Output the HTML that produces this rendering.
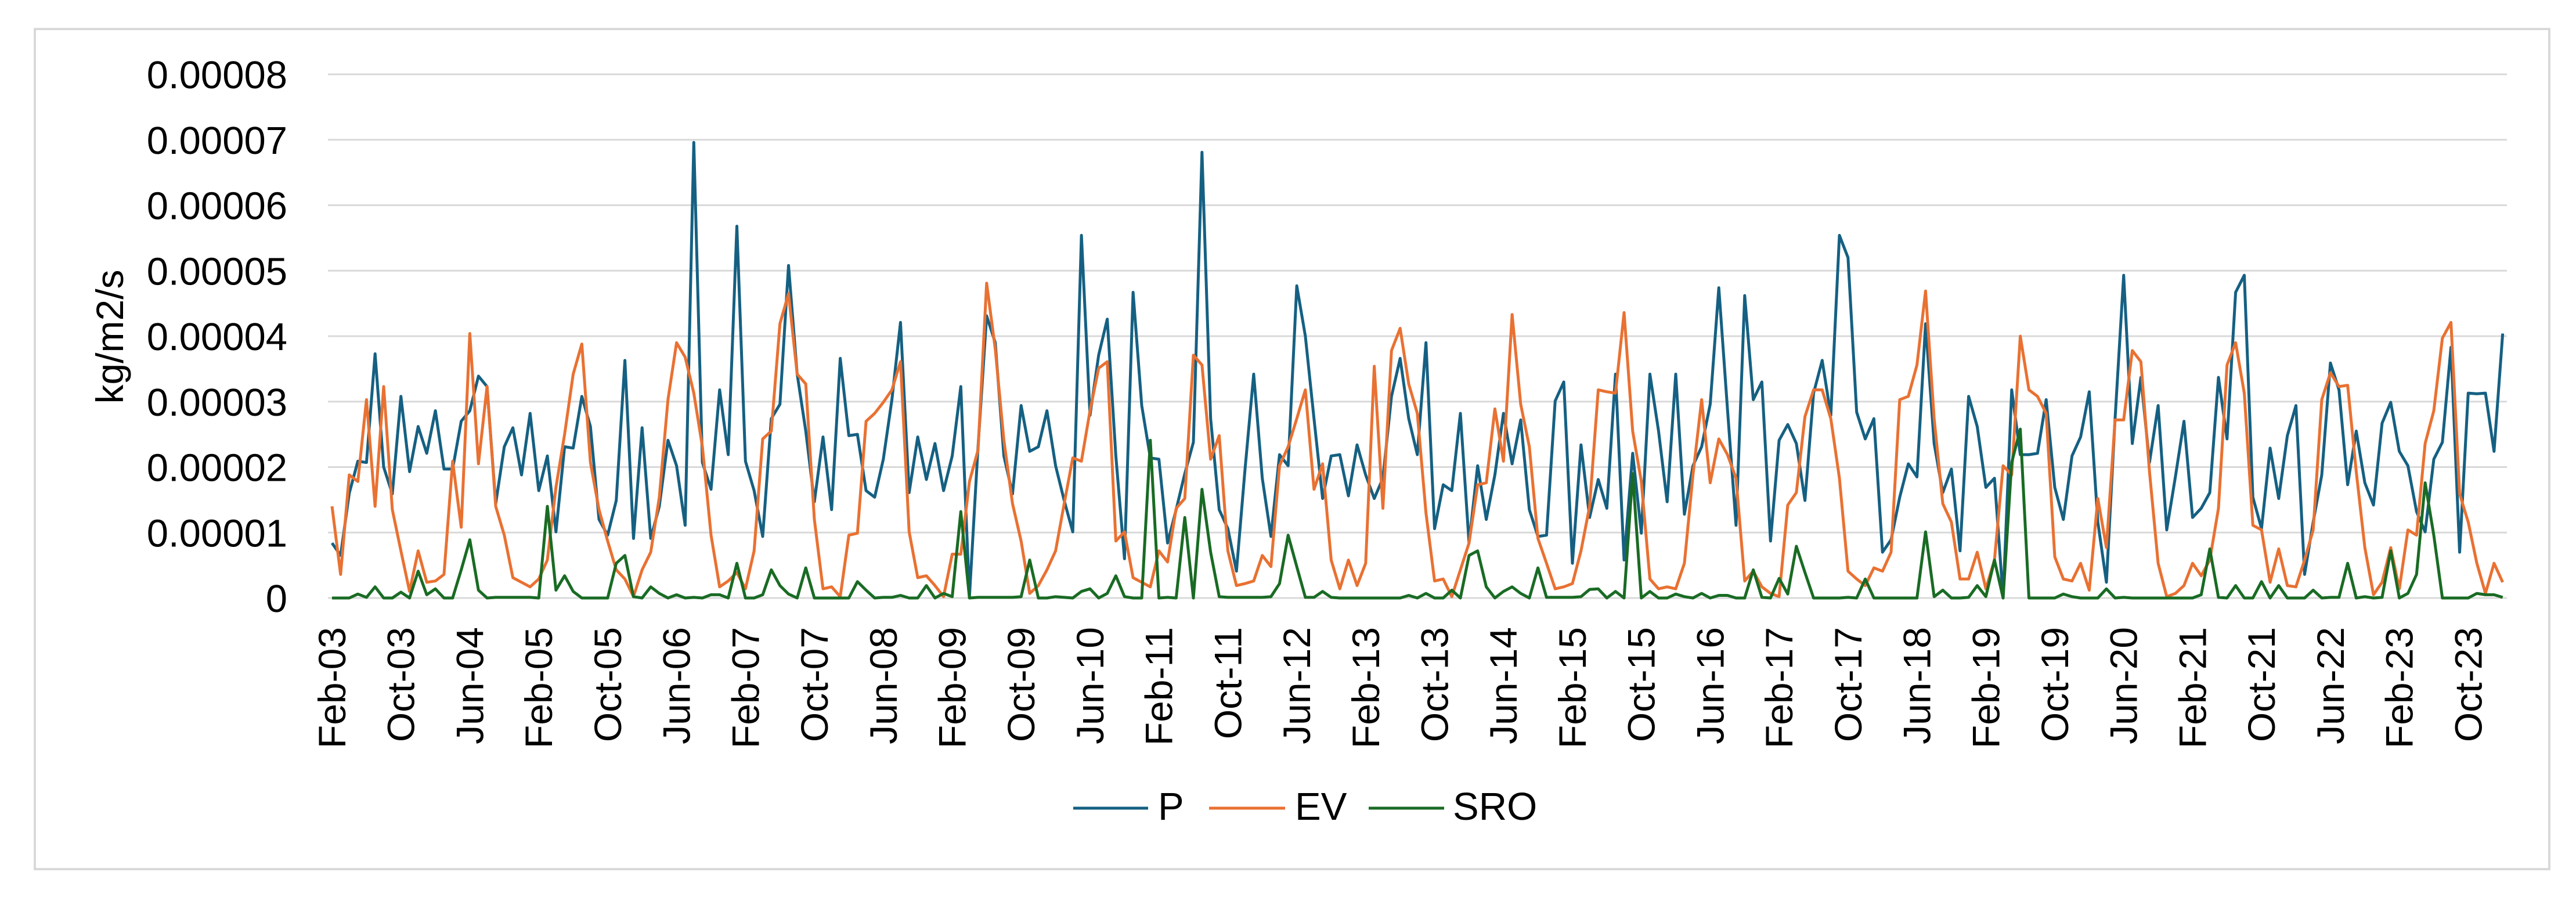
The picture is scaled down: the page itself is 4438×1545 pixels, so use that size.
<!DOCTYPE html>
<html><head><meta charset="utf-8"><style>
html,body{margin:0;padding:0;background:#fff;width:4438px;height:1545px;overflow:hidden}
svg{display:block;font-family:"Liberation Sans",sans-serif}
</style></head><body>
<svg id="chart" width="4438" height="1545" viewBox="0 0 4438 1545" xmlns="http://www.w3.org/2000/svg">
<rect x="60" y="50" width="4332" height="1447" fill="#fff" stroke="#d9d9d9" stroke-width="4"/>
<g id="grid"></g>
<g id="yticks"></g>
<text transform="translate(212,580) rotate(-90)" text-anchor="middle" font-size="66" fill="#000">kg/m2/s</text>
<g id="xticks"></g>
<g id="series"></g>
<g>
<line x1="1849" y1="1392" x2="1978" y2="1392" stroke="#156082" stroke-width="5"/>
<text x="1995" y="1412" font-size="67" fill="#000">P</text>
<line x1="2083" y1="1392" x2="2214" y2="1392" stroke="#E97132" stroke-width="5"/>
<text x="2231" y="1412" font-size="67" fill="#000">EV</text>
<line x1="2358" y1="1392" x2="2488" y2="1392" stroke="#196B24" stroke-width="5"/>
<text x="2503" y="1412" font-size="67" fill="#000">SRO</text>
</g>
</svg>
<script>
// values in units of 1e-5 kg/m2/s, monthly Feb-03 .. Feb-24
const startYear = 2003, startMonth = 1;
const monthNames = ["Jan","Feb","Mar","Apr","May","Jun","Jul","Aug","Sep","Oct","Nov","Dec"];
const yTicks = [0,1,2,3,4,5,6,7,8];
const yTickLabels = ["0","0.00001","0.00002","0.00003","0.00004","0.00005","0.00006","0.00007","0.00008"];
const seriesP = [0.84,0.65,1.6,2.09,2.07,3.73,2.0,1.59,3.08,1.93,
2.62,2.21,2.86,1.97,1.97,2.70,2.86,3.39,3.23,1.44,
2.31,2.60,1.88,2.82,1.64,2.17,1.01,2.31,2.29,3.08,
2.62,1.20,0.96,1.49,3.63,0.91,2.60,0.91,1.40,2.41,
2.02,1.11,6.96,2.07,1.66,3.18,2.19,5.68,2.09,1.64,
0.94,2.74,2.96,5.08,3.42,2.55,1.47,2.46,1.35,3.66,
2.48,2.50,1.64,1.54,2.12,3.03,4.21,1.61,2.46,1.81,
2.36,1.64,2.17,3.23,0.02,2.31,4.31,3.90,2.17,1.59,
2.94,2.24,2.31,2.86,2.02,1.49,1.01,5.54,2.79,3.71,
4.26,2.17,0.60,4.67,2.94,2.14,2.12,0.84,1.35,1.90,
2.38,6.81,2.74,1.35,1.06,0.41,1.97,3.42,1.83,0.94,
2.19,2.02,4.77,4.0,2.74,1.52,2.17,2.19,1.56,2.34,
1.88,1.52,1.83,3.08,3.66,2.74,2.19,3.90,1.06,1.73,
1.64,2.82,0.84,2.02,1.20,1.88,2.82,2.05,2.72,1.35,
0.94,0.96,3.01,3.30,0.53,2.34,1.23,1.81,1.37,3.42,
0.58,2.21,0.99,3.42,2.55,1.47,3.42,1.28,2.02,2.31,
2.96,4.74,2.89,1.11,4.62,3.03,3.30,0.87,2.41,2.65,
2.36,1.49,3.13,3.63,2.79,5.54,5.20,2.84,2.43,2.74,
0.70,0.89,1.54,2.05,1.85,4.19,2.36,1.61,1.97,0.72,
3.08,2.62,1.69,1.83,0.0,3.18,2.19,2.19,2.21,3.03,
1.69,1.20,2.17,2.46,3.15,1.16,0.24,2.74,4.93,2.36,
3.37,2.07,2.94,1.04,1.85,2.70,1.23,1.37,1.61,3.37,
2.43,4.67,4.93,1.54,1.06,2.29,1.52,2.48,2.94,0.36,
1.16,1.88,3.59,3.18,1.73,2.55,1.76,1.42,2.67,2.99,
2.24,2.02,1.32,1.01,2.12,2.38,3.83,0.70,3.13,3.12,
3.13,2.24,4.04];
const seriesEV = [1.40,0.36,1.88,1.78,3.03,1.40,3.23,1.35,0.72,0.10,
0.72,0.24,0.26,0.36,2.09,1.08,4.04,2.05,3.23,1.40,
0.96,0.31,0.24,0.17,0.29,0.58,1.69,2.50,3.42,3.88,
2.07,1.35,0.87,0.43,0.29,0.02,0.43,0.70,1.54,3.03,
3.90,3.68,3.13,2.31,0.96,0.17,0.26,0.39,0.14,0.72,
2.43,2.55,4.19,4.65,3.42,3.27,1.20,0.14,0.17,0.02,
0.96,0.99,2.70,2.82,2.99,3.18,3.61,1.01,0.31,0.34,
0.19,0.02,0.67,0.67,1.78,2.26,4.81,3.80,2.41,1.44,
0.87,0.07,0.19,0.43,0.72,1.44,2.14,2.09,2.86,3.51,
3.61,0.87,1.01,0.31,0.24,0.17,0.72,0.55,1.37,1.52,
3.71,3.56,2.12,2.48,0.72,0.19,0.22,0.26,0.65,0.48,
2.02,2.31,2.74,3.18,1.66,2.05,0.58,0.14,0.58,0.19,
0.53,3.54,1.37,3.78,4.12,3.27,2.82,1.30,0.26,0.29,
0.02,0.43,0.84,1.73,1.76,2.89,2.09,4.33,2.96,2.31,
0.91,0.53,0.14,0.17,0.22,0.72,1.40,3.18,3.15,3.13,
4.36,2.55,1.78,0.29,0.14,0.17,0.14,0.53,1.88,3.03,
1.76,2.43,2.19,1.83,0.26,0.41,0.17,0.07,0.02,1.42,
1.61,2.77,3.18,3.18,2.74,1.83,0.41,0.29,0.19,0.46,
0.41,0.70,3.03,3.08,3.56,4.69,2.74,1.44,1.16,0.29,
0.29,0.70,0.14,0.58,2.02,1.88,4.0,3.18,3.08,2.82,
0.63,0.29,0.26,0.53,0.12,1.52,0.77,2.72,2.72,3.78,
3.61,1.93,0.53,0.02,0.07,0.19,0.53,0.34,0.58,1.37,
3.56,3.90,3.13,1.11,1.04,0.24,0.75,0.19,0.17,0.58,
1.04,3.03,3.44,3.23,3.25,1.93,0.77,0.05,0.24,0.77,
0.14,1.04,0.96,2.36,2.86,3.97,4.21,1.59,1.16,0.53,
0.07,0.53,0.24];
const seriesSRO = [0,0,0,0.06,0.01,0.17,0,0,0.09,0,
0.41,0.05,0.14,0,0,0.43,0.89,0.12,0,0.01,
0.01,0.01,0.01,0.01,0,1.40,0.12,0.34,0.10,0,
0,0,0,0.53,0.65,0.02,0,0.17,0.07,0,
0.05,0,0.01,0,0.05,0.05,0,0.53,0,0,
0.05,0.43,0.19,0.06,0,0.46,0,0,0,0,
0,0.25,0.12,0,0.01,0.01,0.04,0,0,0.19,
0,0.07,0.02,1.32,0,0.01,0.01,0.01,0.01,0.01,
0.02,0.58,0,0,0.02,0.01,0,0.10,0.14,0,
0.07,0.34,0.02,0,0,2.41,0,0.01,0,1.23,
0,1.66,0.70,0.02,0.01,0.01,0.01,0.01,0.01,0.02,
0.22,0.96,0.48,0.01,0.01,0.10,0.01,0,0,0,
0,0,0,0,0,0.04,0,0.07,0,0,
0.12,0,0.65,0.72,0.17,0,0.10,0.17,0.07,0,
0.46,0.01,0.01,0.01,0.01,0.02,0.13,0.14,0,0.10,
0,1.90,0,0.10,0,0,0.06,0.02,0,0.07,
0,0.04,0.04,0,0,0.43,0.01,0,0.30,0.06,
0.79,0.39,0,0,0,0,0.01,0,0.29,0,
0,0,0,0,0,1.01,0.02,0.12,0,0,
0.01,0.19,0.02,0.58,0,2.07,2.58,0,0,0,
0,0.06,0.02,0,0,0,0.14,0,0.01,0,
0,0,0,0,0,0,0,0.05,0.75,0.01,
0,0.19,0,0,0.25,0,0.19,0,0,0,
0.12,0,0.01,0.01,0.53,0,0.02,0,0.01,0.72,
0,0.07,0.36,1.76,0.96,0,0,0,0,0.07,
0.05,0.05,0.01];

const NS = "http://www.w3.org/2000/svg";
const X0 = 572, STEP = 14.84, Y0 = 1030, YUNIT = 112.75;
function xScale(i){ return X0 + i*STEP; }
function yScale(v){ return Y0 - v*YUNIT; }

const grid = document.getElementById('grid');
const yt = document.getElementById('yticks');
yTicks.forEach(function(t, k){
  const ln = document.createElementNS(NS,'line');
  
  
  ln.setAttribute('x1', 565); ln.setAttribute('x2', 4319);
  ln.setAttribute('y1', yScale(t)); ln.setAttribute('y2', yScale(t));
  ln.setAttribute('stroke', '#d9d9d9'); ln.setAttribute('stroke-width', '3');
  grid.appendChild(ln);
  const tx = document.createElementNS(NS,'text');
  
  
  tx.setAttribute('x', 495); tx.setAttribute('y', yScale(t) + 24);
  tx.setAttribute('text-anchor', 'end'); tx.setAttribute('font-size', '67');
  tx.textContent = yTickLabels[k];
  yt.appendChild(tx);
});

const xt = document.getElementById('xticks');
const n = seriesP.length;
for (let i = 0; i < n; i += 8) {
  const m = (startMonth + i) % 12;
  const yr = startYear + Math.floor((startMonth + i) / 12);
  const label = monthNames[m] + "-" + String(yr % 100).padStart(2, '0');
  const tx = document.createElementNS(NS,'text');
  
  
  const x = xScale(i) + 23;
  tx.setAttribute('transform', 'translate(' + x + ',1080) rotate(-90)');
  tx.setAttribute('text-anchor', 'end'); tx.setAttribute('font-size', '66');
  tx.textContent = label;
  xt.appendChild(tx);
}

const sg = document.getElementById('series');
function drawSeries(vals, color, name){
  const pts = vals.map(function(v, i){ return xScale(i).toFixed(1) + ',' + yScale(v).toFixed(1); }).join(' ');
  const pl = document.createElementNS(NS,'polyline');
  
  
  pl.setAttribute('points', pts);
  pl.setAttribute('fill', 'none'); pl.setAttribute('stroke', color);
  pl.setAttribute('stroke-width', '5'); pl.setAttribute('stroke-linejoin', 'round');
  sg.appendChild(pl);
}
drawSeries(seriesP, '#156082', 'series-p-line');
drawSeries(seriesEV, '#E97132', 'series-ev-line');
drawSeries(seriesSRO, '#196B24', 'series-sro-line');
</script>
</body></html>
